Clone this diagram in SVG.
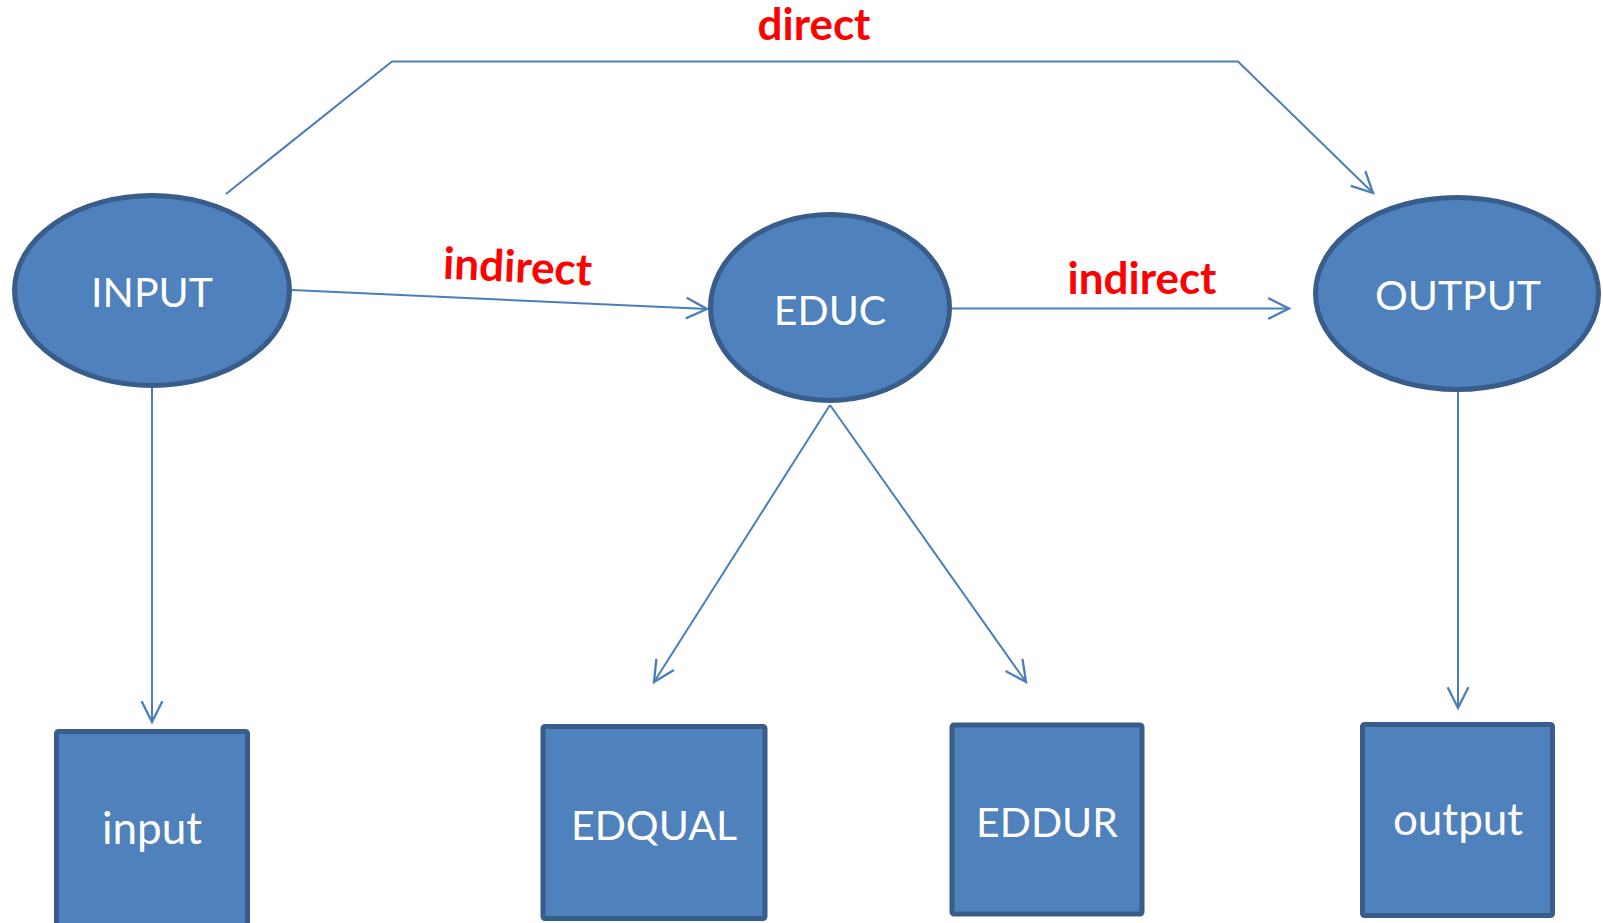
<svg xmlns="http://www.w3.org/2000/svg" width="1603" height="923" viewBox="0 0 1603 923">
<defs>
<style>
.node{fill:#4f81bd;stroke:#385d8a;stroke-width:5}
.lbl{font-family:Lato,"Open Sans","Liberation Sans",sans-serif;font-size:41px;fill:#ffffff;text-anchor:middle}
.lc{font-size:44px}
.red{font-family:Lato,"Open Sans","Liberation Sans",sans-serif;font-size:44px;font-weight:bold;fill:#ff0000;text-anchor:middle}
.edge{fill:none;stroke:#4a7ebb;stroke-width:2}
</style>
<marker id="arr" markerUnits="userSpaceOnUse" markerWidth="30" markerHeight="30" viewBox="-22 -12 26 24" refX="0" refY="0" orient="auto">
<path d="M -18 -9 L 0 0 L -18 9" fill="none" stroke="#4a7ebb" stroke-width="2"/>
</marker>
</defs>
<rect width="1603" height="923" fill="#ffffff"/>
<g id="connectors">
<polyline class="edge" points="226,194 392,61.5 1238,61.5 1373,193" marker-end="url(#arr)"/>
<line class="edge" x1="292" y1="290" x2="707" y2="309" marker-end="url(#arr)"/>
<line class="edge" x1="937" y1="308.5" x2="1289" y2="308.5" marker-end="url(#arr)"/>
<line class="edge" x1="152" y1="388" x2="152" y2="722" marker-end="url(#arr)"/>
<line class="edge" x1="830" y1="405" x2="654" y2="682" marker-end="url(#arr)"/>
<line class="edge" x1="830" y1="405" x2="1026" y2="682" marker-end="url(#arr)"/>
<line class="edge" x1="1458" y1="378" x2="1458" y2="708" marker-end="url(#arr)"/>
<text class="red" x="814" y="40">direct</text>
<text class="red" x="517" y="282" transform="rotate(2.7 517 282)">indirect</text>
<text class="red" x="1142" y="294">indirect</text>
</g>
<g id="INPUT">
<ellipse class="node" cx="152" cy="290.5" rx="137.5" ry="95"/>
<text class="lbl" x="152" y="307">INPUT</text>
</g>
<g id="EDUC">
<ellipse class="node" cx="830" cy="307.5" rx="119.5" ry="93"/>
<text class="lbl" x="830" y="325">EDUC</text>
</g>
<g id="OUTPUT">
<ellipse class="node" cx="1457" cy="293.5" rx="141.5" ry="96"/>
<text class="lbl" x="1458" y="310">OUTPUT</text>
</g>
<g id="input">
<rect class="node" x="56.5" y="731.5" width="191" height="200" rx="2"/>
<text class="lbl lc" x="152" y="844">input</text>
</g>
<g id="EDQUAL">
<rect class="node" x="543" y="726.5" width="222" height="192" rx="2"/>
<text class="lbl" x="654" y="840">EDQUAL</text>
</g>
<g id="EDDUR">
<rect class="node" x="952" y="725" width="190" height="189" rx="2"/>
<text class="lbl" x="1047" y="837">EDDUR</text>
</g>
<g id="output">
<rect class="node" x="1362.5" y="724.5" width="190" height="191" rx="2"/>
<text class="lbl lc" x="1458" y="835">output</text>
</g>
</svg>
